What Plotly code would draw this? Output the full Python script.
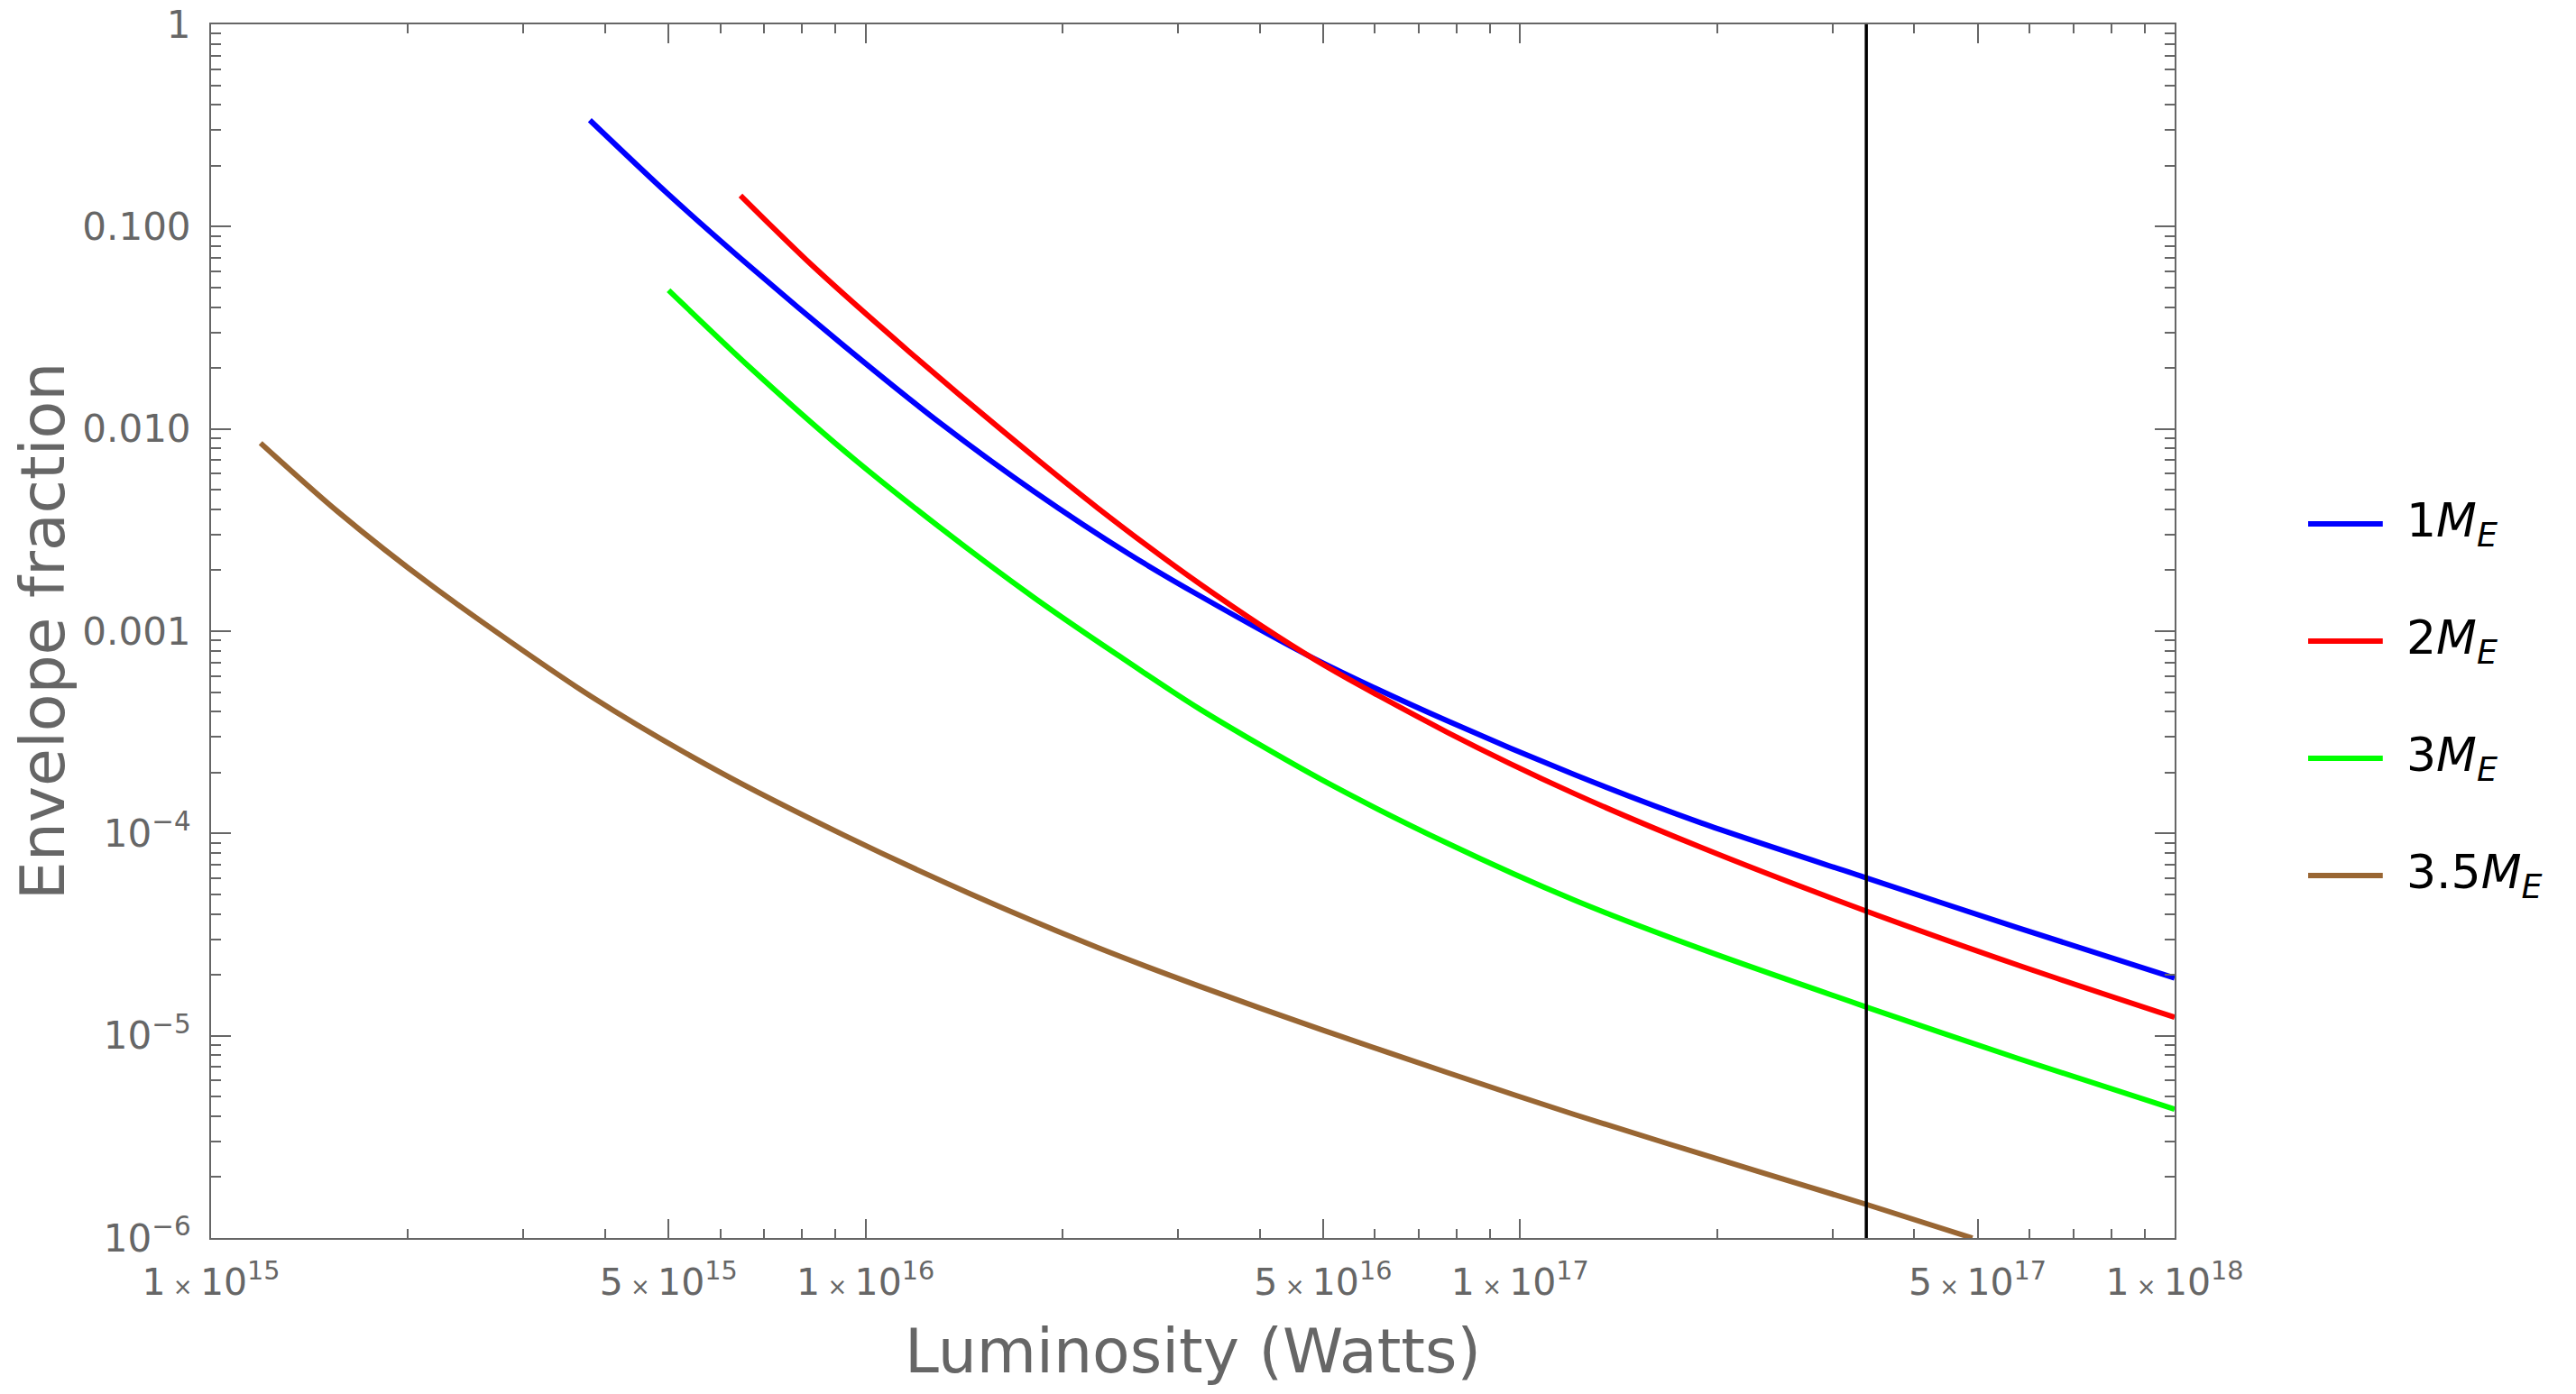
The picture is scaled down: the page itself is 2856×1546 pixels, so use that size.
import plotly.graph_objects as go

# luminosity (W) and envelope fraction, per planet mass
lum_1 = [3.79e15, 4.98e15, 6.64e15, 9.29e15, 1.30e16, 1.81e16, 2.53e16, 3.24e16,
         4.86e16, 7.76e16, 1.21e17, 1.89e17, 3.38e17, 5.77e17, 1.0e18]
env_1 = [0.336, 0.1459, 0.0640, 0.02559, 0.01069, 0.004898, 0.002399, 0.001496,
         7.28e-4, 3.59e-4, 1.954e-4, 1.127e-4, 6.03e-5, 3.41e-5, 1.93e-5]

lum_2 = [6.44e15, 8.30e15, 1.16e16, 1.62e16, 2.26e16, 3.24e16, 4.86e16, 7.76e16,
         1.21e17, 1.89e17, 3.38e17, 5.77e17, 1.0e18]
env_2 = [0.1426, 0.0640, 0.02443, 0.00977, 0.00408, 0.001714, 7.23e-4, 3.15e-4,
         1.574e-4, 8.53e-5, 4.13e-5, 2.23e-5, 1.233e-5]

lum_3 = [5.0e15, 6.64e15, 9.29e15, 1.30e16, 1.81e16, 2.42e16, 3.24e16, 4.98e16,
         7.76e16, 1.21e17, 1.89e17, 3.38e17, 5.77e17, 1.0e18]
env_3 = [0.0485, 0.0203, 0.00776, 0.00325, 0.001462, 7.67e-4, 4.12e-4, 1.84e-4,
         8.91e-5, 4.68e-5, 2.685e-5, 1.387e-5, 7.71e-6, 4.33e-6]

lum_35 = [1.19e15, 1.56e15, 2.18e15, 3.81e15, 5.94e15, 9.29e15, 1.45e16, 2.26e16,
          3.24e16, 4.98e16, 7.76e16, 1.21e17, 2.37e17, 3.39e17, 4.91e17]
env_35 = [0.00851, 0.00391, 0.001667, 4.75e-4, 2.04e-4, 9.77e-5, 5.01e-5, 2.73e-5,
          1.754e-5, 1.069e-5, 6.56e-6, 4.08e-6, 2.08e-6, 1.462e-6, 1.0e-6]

cutoff_lum = 3.38e17

series_names = ['1<i>M</i><sub><i>E</i></sub>', '2<i>M</i><sub><i>E</i></sub>',
                '3<i>M</i><sub><i>E</i></sub>', '3.5<i>M</i><sub><i>E</i></sub>']
series_colors = ['#0000ff', '#ff0000', '#00ff00', '#996633']

x_tickvals = [1e15, 5e15, 1e16, 5e16, 1e17, 5e17, 1e18]
x_ticktext = ["1<span style='font-size:26px'> × </span>10<sup>15</sup>",
              "5<span style='font-size:26px'> × </span>10<sup>15</sup>",
              "1<span style='font-size:26px'> × </span>10<sup>16</sup>",
              "5<span style='font-size:26px'> × </span>10<sup>16</sup>",
              "1<span style='font-size:26px'> × </span>10<sup>17</sup>",
              "5<span style='font-size:26px'> × </span>10<sup>17</sup>",
              "1<span style='font-size:26px'> × </span>10<sup>18</sup>"]
x_minor = [m * 10 ** e for e in (15, 16, 17) for m in (2, 3, 4, 6, 7, 8, 9)]

y_tickvals = [1e-6, 1e-5, 1e-4, 1e-3, 1e-2, 1e-1, 1]
y_ticktext = ['10<sup>\u22126</sup>', '10<sup>\u22125</sup>', '10<sup>\u22124</sup>',
              '0.001', '0.010', '0.100', '1']
y_minor = [m * 10 ** e for e in (-6, -5, -4, -3, -2, -1) for m in range(2, 10)]

grey = '#666666'
fnt = 'DejaVu Sans'

fig = go.Figure()
all_lum = [lum_1, lum_2, lum_3, lum_35]
all_env = [env_1, env_2, env_3, env_35]
for i in range(4):
	fig.add_trace(go.Scatter(x=all_lum[i], y=all_env[i], mode='lines', name=series_names[i],
	                         line=dict(color=series_colors[i], width=6, shape='spline', smoothing=0.8),
	                         showlegend=False))

fig.add_trace(go.Scatter(x=[cutoff_lum, cutoff_lum], y=[1e-6, 1], mode='lines',
                         line=dict(color='black', width=3.5), showlegend=False))

# hand made legend to the right of the frame
leg_y = [0.5884, 0.4918, 0.3952, 0.2987]
for i in range(4):
	fig.add_shape(type='line', xref='paper', yref='paper', x0=1.068, x1=1.106,
	              y0=leg_y[i], y1=leg_y[i], line=dict(color=series_colors[i], width=6))
	fig.add_annotation(xref='paper', yref='paper', x=1.117, y=leg_y[i], text=series_names[i],
	                   showarrow=False, xanchor='left', yanchor='middle',
	                   font=dict(family=fnt, size=52, color='black'))

fig.update_xaxes(type='log', range=[15, 18], showgrid=False, zeroline=False,
                 showline=True, linecolor=grey, linewidth=2, mirror='allticks',
                 ticks='inside', ticklen=21, tickwidth=1.5, tickcolor=grey,
                 tickmode='array', tickvals=x_tickvals, ticktext=x_ticktext,
                 tickfont=dict(family=fnt, size=41, color=grey), ticklabelstandoff=12,
                 ticklabeloverflow='allow', automargin=False,
                 minor=dict(tickmode='array', tickvals=x_minor, ticks='inside', ticklen=10,
                            tickwidth=1.5, tickcolor=grey, showgrid=False),
                 title=dict(text='Luminosity (Watts)', standoff=31,
                            font=dict(family=fnt, size=68, color=grey)))
fig.update_yaxes(type='log', range=[-6, 0], showgrid=False, zeroline=False,
                 showline=True, linecolor=grey, linewidth=2, mirror='allticks',
                 ticks='inside', ticklen=22, tickwidth=1.5, tickcolor=grey,
                 tickmode='array', tickvals=y_tickvals, ticktext=y_ticktext,
                 tickfont=dict(family=fnt, size=42, color=grey), ticklabelstandoff=12,
                 ticklabeloverflow='allow', automargin=False,
                 minor=dict(tickmode='array', tickvals=y_minor, ticks='inside', ticklen=11,
                            tickwidth=1.5, tickcolor=grey, showgrid=False),
                 title=dict(text='Envelope fraction', standoff=37,
                            font=dict(family=fnt, size=68, color=grey)))

# page body keeps an 8px margin, so the figure is 16px smaller than the window
fig.update_layout(width=2840, height=1530, plot_bgcolor='white', paper_bgcolor='white',
                  margin=dict(l=226, r=437, t=19, b=165))

fig.write_html("out.html")
